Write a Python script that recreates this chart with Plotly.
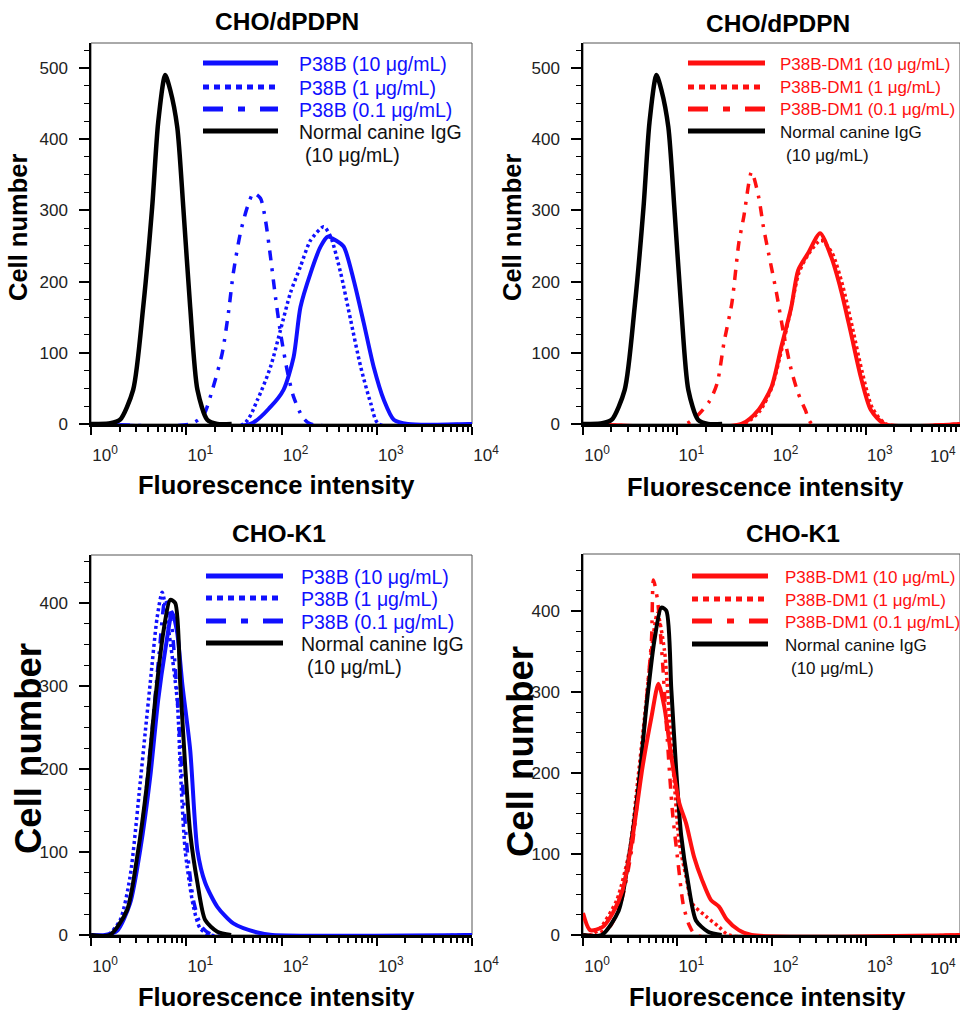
import plotly.graph_objects as go

W = 960
H = 1010
FONT = "Liberation Sans, Arial, sans-serif"
BLUE = "#1010ff"
RED = "#ff1010"
BLACK = "#000000"

# ---- data (fluorescence intensity, cell number) ----
# CHO/dPDPN, normal canine IgG control (same in both top panels)
igg_top_x = [1.0, 1.16, 1.6, 2.02, 2.77, 3.53, 4.39, 5.07, 6.01, 6.79, 8.04, 9.3, 11.0, 13.1, 16.6, 21.2, 30]
igg_top_y = [0, 0, 1, 6, 48, 164, 305, 423, 490, 469, 417, 305, 164, 48, 6, 0, 0]

# CHO/dPDPN, P38B
p38b_10_top_x = [1, 47.2, 76.6, 105, 134, 158, 202, 257, 305, 370, 450, 573, 730, 929, 1185, 1510, 2120, 10000]
p38b_10_top_y = [0, 0, 24, 48, 94, 164, 212, 249, 263, 258, 249, 202, 142, 80, 34, 6, 0, 0]
p38b_1_top_x = [1, 39.8, 55.9, 76.6, 97.6, 124, 158, 202, 277, 328, 418, 532, 679, 865, 1050, 10000]
p38b_1_top_y = [0, 0, 34, 80, 132, 184, 221, 258, 277, 263, 212, 146, 80, 29, 0, 0]
p38b_01_top_x = [1, 11.0, 15.1, 18.8, 23.9, 27.7, 31.2, 37.0, 43.9, 50.7, 60.1, 67.9, 76.6, 86.5, 97.6, 116, 134, 166, 202, 10000]
p38b_01_top_y = [0, 0, 12, 48, 100, 156, 212, 268, 305, 324, 317, 286, 235, 178, 128, 72, 38, 10, 0, 0]

# CHO/dPDPN, P38B-DM1
dm1_10_top_x = [1, 48, 73, 100, 127, 162, 192, 245, 328, 429, 546, 695, 886, 1130, 1585, 10000]
dm1_10_top_y = [0, 0, 20, 52, 108, 164, 216, 240, 268, 235, 188, 128, 66, 20, 0, 0]
dm1_1_top_x = [1, 50, 75, 100, 128, 160, 195, 245, 335, 440, 570, 720, 920, 1180, 1650, 10000]
dm1_1_top_y = [0, 0, 18, 50, 104, 160, 212, 238, 258, 240, 194, 136, 72, 22, 0, 0]
dm1_01_top_x = [1, 12.4, 21.7, 26.5, 31.3, 38, 45, 50.8, 61.5, 73, 82, 93, 113, 134, 162, 192, 228, 270, 10000]
dm1_01_top_y = [0, 0, 31, 57, 114, 170, 254, 291, 354, 319, 277, 240, 184, 128, 76, 43, 20, 0, 0]

# CHO-K1, normal canine IgG control (same in both bottom panels)
igg_k1_x = [1.0, 1.58, 2.39, 3.05, 3.88, 4.72, 5.73, 6.79, 7.66, 8.65, 9.75, 11.0, 13.1, 15.8, 21.2, 29.6]
igg_k1_y = [0, 0, 30, 94, 183, 283, 364, 404, 400, 303, 203, 123, 63, 18, 4, 0]

# CHO-K1, P38B
p38b_10_k1_x = [1, 1.4, 1.88, 2.57, 3.28, 4.18, 5.07, 6.01, 7.12, 8.04, 9.08, 11.0, 13.1, 15.8, 21.2, 31.2, 55.9, 80, 10000]
p38b_10_k1_y = [0, 0, 5, 38, 102, 190, 283, 343, 389, 364, 303, 223, 102, 63, 34, 14, 3, 0, 0]
p38b_1_k1_x = [1, 1.5, 2.02, 2.57, 3.28, 3.70, 4.18, 4.95, 5.59, 6.47, 8.04, 8.65, 9.75, 11.9, 14.0, 17.9, 10000]
p38b_1_k1_y = [0, 0, 18, 70, 183, 243, 303, 383, 413, 371, 283, 203, 102, 34, 8, 0, 0]
p38b_01_k1_x = [1, 1.6, 2.2, 2.9, 3.6, 4.4, 5.2, 6.0, 6.9, 7.9, 9.0, 10.3, 12.0, 14.5, 19, 10000]
p38b_01_k1_y = [0, 0, 20, 70, 150, 250, 340, 405, 380, 300, 195, 100, 40, 10, 0, 0]

# CHO-K1, P38B-DM1
dm1_10_k1_x = [1, 1.19, 1.62, 2.07, 2.64, 3.36, 4.28, 5.33, 6.31, 7.3, 8.65, 10.5, 12.4, 15.1, 18.3, 22.8, 27.7, 33.6, 45, 61.6, 10000]
dm1_10_k1_y = [27, 6, 10, 27, 56, 121, 207, 269, 310, 281, 220, 163, 138, 96, 68, 43, 35, 19, 6, 0, 0]
dm1_1_k1_x = [1, 1.2, 1.51, 2.28, 3.12, 3.79, 4.5, 5.33, 6.16, 7.3, 8.24, 9.3, 10.5, 12.4, 14.4, 20.2, 27.7, 35.3, 10000]
dm1_1_k1_y = [0, 0, 8, 43, 105, 188, 269, 352, 397, 352, 269, 188, 114, 72, 39, 23, 10, 0, 0]
dm1_01_k1_x = [1, 1.27, 1.92, 2.57, 3.28, 3.98, 4.72, 5.33, 5.59, 6.16, 6.95, 7.85, 8.86, 10.2, 11.6, 13.4, 15.8, 10000]
dm1_01_k1_y = [0, 0, 10, 43, 105, 191, 290, 364, 438, 414, 340, 241, 154, 89, 37, 12, 0, 0]

# tick labels and texts
x_tickvals = [1, 10, 100, 1000, 10000]
x_ticktext = ["10<sup>0</sup>", "10<sup>1</sup>", "10<sup>2</sup>", "10<sup>3</sup>", "10<sup>4</sup>"]
panel_titles = ["CHO/dPDPN", "CHO/dPDPN", "CHO-K1", "CHO-K1"]
p38b_labels = ["P38B (10 μg/mL)", "P38B (1 μg/mL)", "P38B (0.1 μg/mL)", "Normal canine IgG"]
dm1_labels = ["P38B-DM1 (10 μg/mL)", "P38B-DM1 (1 μg/mL)", "P38B-DM1 (0.1 μg/mL)", "Normal canine IgG"]
igg_conc = "(10 μg/mL)"


def fx(x):
    return x / W


def fy(y):
    return 1 - y / H


# line styles (curve, legend sample)
SOLID = dict(width=4, dash="solid")
DOTTED = dict(width=3.5, dash="3px,3px")
DASHDOT = dict(width=3.5, dash="10px,8px,3px,8px")
LEG_STYLES = [dict(width=5, dash="solid"), dict(width=5, dash="6px,5px"),
              dict(width=5, dash="20px,15px,7px,15px"), dict(width=5, dash="solid")]

fig = go.Figure()


def add_curve(x, y, color, style, ax):
    fig.add_trace(go.Scatter(x=x, y=y, mode="lines", xaxis="x" + ax, yaxis="y" + ax,
                             line=dict(color=color, shape="spline", smoothing=0.7, **style),
                             showlegend=False, hoverinfo="x+y"))


# top left
add_curve(p38b_01_top_x, p38b_01_top_y, BLUE, DASHDOT, "")
add_curve(p38b_1_top_x, p38b_1_top_y, BLUE, DOTTED, "")
add_curve(p38b_10_top_x, p38b_10_top_y, BLUE, SOLID, "")
add_curve(igg_top_x, igg_top_y, BLACK, dict(width=4.5), "")
# top right
add_curve(dm1_01_top_x, dm1_01_top_y, RED, DASHDOT, "2")
add_curve(dm1_10_top_x, dm1_10_top_y, RED, SOLID, "2")
add_curve(dm1_1_top_x, dm1_1_top_y, RED, DOTTED, "2")
add_curve(igg_top_x, igg_top_y, BLACK, dict(width=4.5), "2")
# bottom left
add_curve(p38b_1_k1_x, p38b_1_k1_y, BLUE, DOTTED, "3")
add_curve(p38b_01_k1_x, p38b_01_k1_y, BLUE, DASHDOT, "3")
add_curve(p38b_10_k1_x, p38b_10_k1_y, BLUE, SOLID, "3")
add_curve(igg_k1_x, igg_k1_y, BLACK, dict(width=4), "3")
# bottom right
add_curve(dm1_01_k1_x, dm1_01_k1_y, RED, DASHDOT, "4")
add_curve(dm1_1_k1_x, dm1_1_k1_y, RED, DOTTED, "4")
add_curve(igg_k1_x, igg_k1_y, BLACK, dict(width=4), "4")
add_curve(dm1_10_k1_x, dm1_10_k1_y, RED, SOLID, "4")

# panel boxes in pixels: (left, right, top, bottom, ymax)
panels = [(91, 472, 43, 424, 535), (583, 960, 43, 424, 535),
          (91, 472, 555, 935, 458), (583, 960, 554, 935, 470)]

tickfont = dict(family=FONT, size=17, color="#222")
minor_x = [m * 10 ** d for d in range(4) for m in range(2, 10)]
layout = {}
for i, (l, r, t, b, ymax) in enumerate(panels):
    sfx = "" if i == 0 else str(i + 1)
    # right-hand panels stop at the page edge, so their last decade label is added by hand
    tv = x_tickvals if i % 2 == 0 else x_tickvals[:-1]
    tt = x_ticktext if i % 2 == 0 else x_ticktext[:-1]
    layout["xaxis" + sfx] = dict(
        type="log", domain=[fx(l), fx(r)], range=[0, 4], anchor="y" + sfx, automargin=False,
        tickmode="array", tickvals=tv, ticktext=tt,
        ticks="outside", ticklen=8, tickwidth=2, tickcolor="black",
        minor=dict(tickmode="array", tickvals=minor_x, ticks="outside", ticklen=5, tickwidth=1.5, tickcolor="black"),
        showline=True, linecolor="black", linewidth=2.5, showgrid=False, zeroline=False,
        tickfont=tickfont, ticklabelshift=14, ticklabelstandoff=6,
    )
    layout["yaxis" + sfx] = dict(
        domain=[fy(b), fy(t)], range=[0, ymax], anchor="x" + sfx, automargin=False,
        dtick=100, ticks="outside", ticklen=10, tickwidth=1.5, tickcolor="black",
        minor=dict(dtick=25, ticks="outside", ticklen=5, tickwidth=1, tickcolor="black"),
        showline=True, linecolor="black", linewidth=1.5, showgrid=False, zeroline=False,
        tickfont=tickfont, ticklabelstandoff=8,
    )
    fig.add_shape(type="rect", xref="x" + sfx + " domain", yref="y" + sfx + " domain",
                  x0=0, x1=1, y0=0, y1=1, line=dict(color="#555", width=1), layer="below")

fig.update_layout(width=W, height=H, margin=dict(l=0, r=0, t=0, b=0, autoexpand=False),
                  plot_bgcolor="white", paper_bgcolor="white", **layout)


def text(s, x, y, size, bold=False, angle=0, xanchor="center", color="black"):
    fig.add_annotation(text="<b>" + s + "</b>" if bold else s, xref="paper", yref="paper",
                       x=fx(x), y=fy(y), showarrow=False, textangle=angle,
                       xanchor=xanchor, yanchor="middle",
                       font=dict(family=FONT, size=size, color=color))


# titles
text(panel_titles[0], 287, 21, 24.5, bold=True)
text(panel_titles[1], 778, 23, 24.5, bold=True)
text(panel_titles[2], 279, 533, 24.5, bold=True)
text(panel_titles[3], 793, 533, 24.5, bold=True)
# axis titles
text("Fluorescence intensity", 276, 485, 25.5, bold=True)
text("Fluorescence intensity", 765, 487, 25.5, bold=True)
text("Fluorescence intensity", 276, 997, 25.5, bold=True)
text("Fluorescence intensity", 767, 997, 25.5, bold=True)
text("Cell number", 18, 228, 25.5, bold=True, angle=-90)
text("Cell number", 512, 228, 25.5, bold=True, angle=-90)
text("Cell number", 28, 749, 36.5, bold=True, angle=-90)
text("Cell number", 520, 752, 36.5, bold=True, angle=-90)

# last decade label of the right panels, kept inside the page
text(x_ticktext[-1], 958, 455, 17, xanchor="right", color="#222")
text(x_ticktext[-1], 958, 967, 17, xanchor="right", color="#222")

# legends: (line x0, line x1, rows, text x, font size, color, labels)
legends = [(203, 278, [63, 87, 109, 131], 297, 19.5, BLUE, p38b_labels),
           (688, 765, [63, 87, 109, 131], 778, 17, RED, dm1_labels),
           (206, 283, [576, 598, 621, 643], 299, 19.5, BLUE, p38b_labels),
           (692, 768, [576, 599, 621, 644], 783, 17, RED, dm1_labels)]
for x0, x1, rows, tx, size, color, labels in legends:
    for k, (yrow, lab) in enumerate(zip(rows, labels)):
        c = BLACK if k == 3 else color
        fig.add_shape(type="line", xref="paper", yref="paper", x0=fx(x0), x1=fx(x1),
                      y0=fy(yrow), y1=fy(yrow), line=dict(color=c, **LEG_STYLES[k]))
        text(lab, tx, yrow + 1, size, xanchor="left", color=c if k < 3 else "#111")
    text(igg_conc, tx + 6, rows[3] + 24, size, xanchor="left", color="#111")

# the page body has a default 8px margin; drop it so the figure sits at (0, 0)
fig.write_html("out.html", config={"displayModeBar": False},
               post_script="document.body.style.margin='0';")
